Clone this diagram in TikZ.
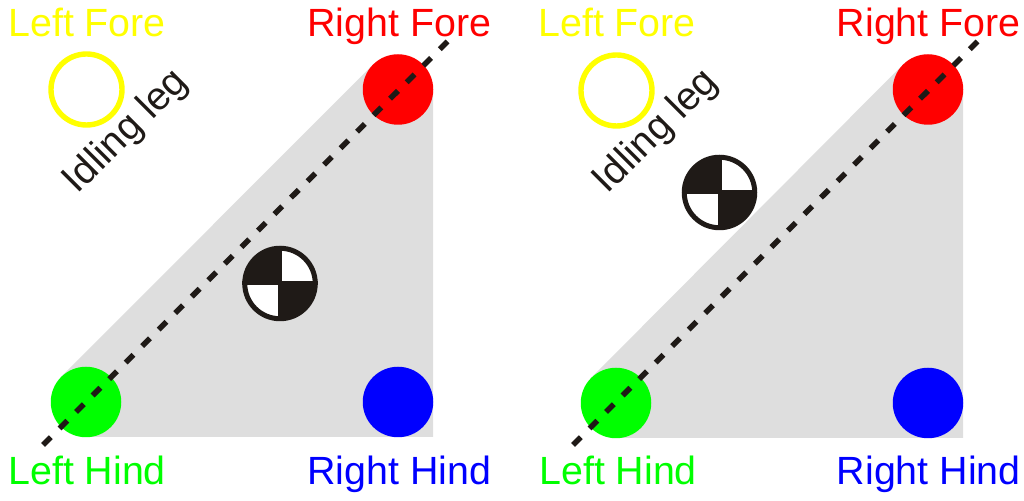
\documentclass[tikz,border=0pt]{standalone}
\usepackage{fontspec}
\setmainfont{Liberation Sans}
\usepackage{xcolor}
\definecolor{legyellow}{HTML}{FFFF00}
\definecolor{leggreen}{HTML}{00FF00}
\definecolor{legred}{HTML}{FF0000}
\definecolor{legblue}{HTML}{0000FF}
\definecolor{supportgray}{HTML}{DEDEDE}
\definecolor{markblack}{HTML}{1F1A17}
\tikzset{
  footfall/.style={circle,inner sep=0pt,outer sep=0pt,minimum size=1.41cm},
  idlefoot/.style={circle,draw=legyellow,line width=0.108cm,inner sep=0pt,minimum size=1.42cm},
  leglabel/.style={inner sep=0pt,font=\fontsize{22.4}{22.4}\selectfont},
  gravmark/.style={circle,draw=markblack,line width=0.1cm,fill=white,inner sep=0pt,minimum size=1.41cm},
  diagonal/.style={markblack,line width=0.11cm,dash pattern=on 0.22cm off 0.247cm}
}
\begin{document}
\begin{tikzpicture}
  \useasboundingbox (0,0) rectangle (20.48,10.02);
  % left panel
  \fill[supportgray] (1.22,2.48) -- (7.46,8.73) -- (8.66,8.24) -- (8.66,1.28) -- (1.72,1.28) -- cycle;
  \node[footfall,fill=leggreen] (lh1) at (1.72,1.98) {};
  \node[footfall,fill=legred] (rf1) at (7.96,8.23) {};
  \node[footfall,fill=legblue] (rh1) at (7.96,1.98) {};
  \coordinate (a1) at (0.86,1.12);
  \coordinate (b1) at (8.97,9.21);
  \draw[diagonal] (a1) -- (b1);
  \node[idlefoot] (lf1) at (1.73,8.23) {};
  \node[leglabel,legyellow,anchor=base west] (lft1) at (0.16,9.28) {Left Fore};
  \node[leglabel,legred,anchor=base east] (rft1) at (9.83,9.28) {Right Fore};
  \node[leglabel,leggreen,anchor=base west] (lht1) at (0.16,0.32) {Left Hind};
  \node[leglabel,legblue,anchor=base east] (rht1) at (9.83,0.32) {Right Hind};
  \node[leglabel,markblack,rotate=45] (idle1) at (2.53,7.38) {Idling leg};
  \node[gravmark] (cg1) at (5.6,4.35) {};
  \fill[markblack] (cg1.center) -- ++(-0.68,0) arc[start angle=180,end angle=90,radius=0.68cm] -- cycle;
  \fill[markblack] (cg1.center) -- ++(0.68,0) arc[start angle=0,end angle=-90,radius=0.68cm] -- cycle;
  \draw[markblack,line width=0.08cm] (cg1.west) -- (cg1.east) (cg1.north) -- (cg1.south);
  % right panel
  \fill[supportgray] (11.82,2.46) -- (18.06,8.73) -- (19.26,8.24) -- (19.26,1.26) -- (12.32,1.26) -- cycle;
  \node[footfall,fill=leggreen] (lh2) at (12.32,1.96) {};
  \node[footfall,fill=legred] (rf2) at (18.56,8.23) {};
  \node[footfall,fill=legblue] (rh2) at (18.56,1.96) {};
  \coordinate (a2) at (11.46,1.12);
  \coordinate (b2) at (19.57,9.21);
  \draw[diagonal] (a2) -- (b2);
  \node[idlefoot] (lf2) at (12.33,8.21) {};
  \node[leglabel,legyellow,anchor=base west] (lft2) at (10.76,9.28) {Left Fore};
  \node[leglabel,legred,anchor=base east] (rft2) at (20.42,9.28) {Right Fore};
  \node[leglabel,leggreen,anchor=base west] (lht2) at (10.78,0.32) {Left Hind};
  \node[leglabel,legblue,anchor=base east] (rht2) at (20.42,0.32) {Right Hind};
  \node[leglabel,markblack,rotate=45] (idle2) at (13.13,7.38) {Idling leg};
  \node[gravmark] (cg2) at (14.39,6.17) {};
  \fill[markblack] (cg2.center) -- ++(-0.68,0) arc[start angle=180,end angle=90,radius=0.68cm] -- cycle;
  \fill[markblack] (cg2.center) -- ++(0.68,0) arc[start angle=0,end angle=-90,radius=0.68cm] -- cycle;
  \draw[markblack,line width=0.08cm] (cg2.west) -- (cg2.east) (cg2.north) -- (cg2.south);
\end{tikzpicture}
\end{document}
